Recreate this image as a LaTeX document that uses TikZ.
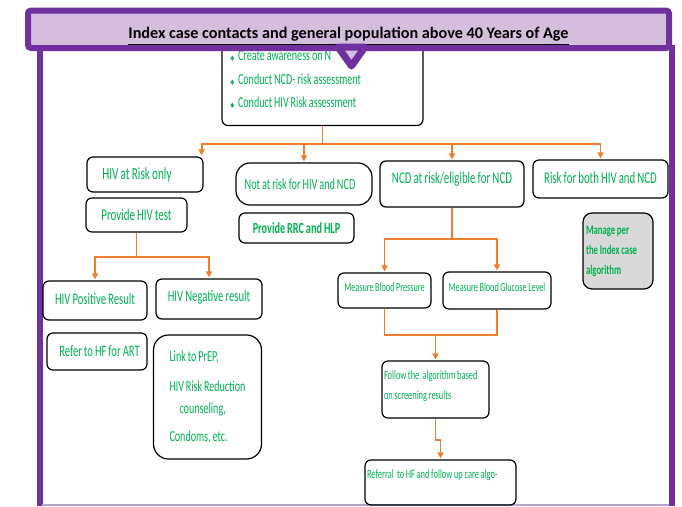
\documentclass[tikz,border=0pt]{standalone}
\usepackage{amssymb,amsmath}
\usepackage{fontspec}
\setmainfont{Carlito}
\newfontfamily\narrowfont[FakeStretch=0.66,WordSpace=0.85]{Carlito}
\usepackage{tikz}
\usetikzlibrary{arrows,arrows.meta,shapes,positioning}
\usepackage{color}

\definecolor{ipurple}{HTML}{7030A0}
\definecolor{ilavender}{HTML}{D5BEDD}
\definecolor{iorange}{HTML}{ED7D31}
\definecolor{igreen}{HTML}{00B050}
\definecolor{igray}{HTML}{D9D9D9}
\definecolor{iedge}{HTML}{B9A3CC}

\newcommand{\itembullet}{\makebox[8pt][l]{\fontsize{6}{6}\selectfont$\blacklozenge$}}
\newcommand{\fsz}[1]{\fontsize{#1}{1.2\dimexpr #1pt\relax}\selectfont}
\newcommand{\lift}[2]{\raisebox{#1}[\height][\depth]{#2}}

\tikzset{
  stepbox/.style={draw=black, line width=1.2pt, rounded corners=6pt, text=igreen,
    align=center, inner sep=2pt, font=\narrowfont\fsz{16}},
  smallbox/.style={stepbox, font=\narrowfont\fsz{12.4}},
  wire/.style={iorange, line width=1.8pt},
  flow/.style={wire, -{Triangle[length=6pt,width=6pt]}, shorten >=1pt},
  frame/.style={ipurple, line width=6pt},
}

\begin{document}
\begin{tikzpicture}[x=1pt,y=-1pt]
  \useasboundingbox (0,0) rectangle (682,506);
  %draw outer frame
  \draw[frame] (39.5,45) -- (39.5,506);
  \draw[frame] (672,45) -- (672,506);
  \draw[iedge, line width=1.5pt] (42,505) -- (669,505);

  %top box with the bullet list
  \node[stepbox, minimum width=201pt, minimum height=92pt, text width=185pt, inner xsep=8pt,
    align=flush left, font=\narrowfont\fontsize{15.3}{23.5}\selectfont] (aware) at (322.5,79.5)
    {\itembullet Create awareness on N\\
     \itembullet Conduct NCD- risk assessment\\
     \itembullet Conduct HIV Risk assessment};

  %first row of risk groups
  \node[stepbox, minimum width=116pt, minimum height=35pt, font=\narrowfont\fsz{17}] (hivrisk) at (145,174.5) {\hspace*{-16pt}HIV at Risk only};
  \node[stepbox, minimum width=136pt, minimum height=42pt, rounded corners=14pt,
    font=\narrowfont\fsz{15.5}] (notrisk) at (304,184) {\hspace*{-8pt}Not at risk for HIV and NCD};
  \node[stepbox, minimum width=144pt, minimum height=46pt,
    font=\narrowfont\fsz{16.5}] (ncdrisk) at (452,184) {\lift{5pt}{NCD at risk/eligible for NCD}};
  \node[stepbox, minimum width=135pt, minimum height=38pt,
    font=\narrowfont\fsz{16.4}] (both) at (600.5,179) {\lift{1pt}{Risk for both HIV and NCD}};

  %second row
  \node[stepbox, minimum width=101pt, minimum height=34pt,
    font=\narrowfont\fsz{16.5}] (hivtest) at (136.5,215) {Provide HIV test};
  \node[stepbox, minimum width=115pt, minimum height=30pt,
    font=\narrowfont\bfseries\fsz{15.5}] (rrc) at (296.5,228) {Provide RRC and HLP};
  \node[stepbox, fill=igray, minimum width=70pt, minimum height=76pt, rounded corners=9pt,
    text width=64pt, inner xsep=3pt, align=flush left, font=\narrowfont\bfseries\fontsize{13.2}{20}\selectfont] (manage) at (618,251)
    {Manage per\\ the Index case\\ algorithm};

  %HIV test results
  \node[stepbox, minimum width=104pt, minimum height=39pt,
    font=\narrowfont\fsz{16.2}] (hivpos) at (95,300.5) {\lift{2pt}{HIV Positive Result}};
  \node[stepbox, minimum width=106pt, minimum height=40pt,
    font=\narrowfont\fsz{16.2}] (hivneg) at (209,299) {\lift{2pt}{HIV Negative result}};
  \node[stepbox, minimum width=100pt, minimum height=37pt,
    font=\narrowfont\fsz{16}] (art) at (97,351.5) {\hspace*{5pt}Refer to HF for ART};
  \node[stepbox, minimum width=108pt, minimum height=124pt, rounded corners=15pt,
    text width=76pt, inner xsep=16pt, align=flush left, font=\narrowfont\fontsize{15.3}{14}\selectfont] (prep) at (207.5,397)
    {Link to PrEP,\\[16pt]
     HIV Risk Reduction\\[8pt]
     \hspace*{10pt}counseling,\\[14pt]
     Condoms, etc.};

  %NCD screening
  \node[smallbox, minimum width=93pt, minimum height=35pt] (bp) at (384.5,290.5) {\lift{3pt}{Measure Blood Pressure}};
  \node[smallbox, minimum width=108pt, minimum height=37pt] (bgl) at (497,290.5) {\lift{3pt}{Measure Blood Glucose Level}};
  \node[smallbox, minimum width=107pt, minimum height=57pt, text width=103pt, align=flush left,
    font=\narrowfont\fontsize{12.7}{20}\selectfont] (follow) at (435.5,389.5)
    {\lift{3pt}{Follow the\ \ algorithm based}\\ \lift{3pt}{on screening results}};
  \node[smallbox, minimum width=151pt, minimum height=45pt, text width=147pt, align=flush left,
    font=\narrowfont\fsz{12.8}] (referral) at (440.5,482.5)
    {\lift{7pt}{Referral\ \ to HF and follow up care algo-}};

  %draw connectors
  \draw[wire] (aware.south) -- ++(0,18) coordinate (fork1);
  \draw[flow] (fork1) -| ([xshift=-2pt]hivrisk.north east);
  \draw[flow] (fork1) -| (notrisk.north);
  \draw[flow] (fork1) -| (ncdrisk.north);
  \draw[flow] (fork1) -| (both.north);
  \draw[wire] (hivtest.south) -- ++(0,24) coordinate (fork2);
  \draw[flow] (fork2) -| (hivpos.north);
  \draw[flow] (fork2) -| (hivneg.north);
  \draw[wire] (ncdrisk.south) -- ++(0,31) coordinate (fork3);
  \draw[flow] (fork3) -| (bp.north);
  \draw[flow] (fork3) -| (bgl.north);
  \coordinate (join) at (follow.north |- 0,335);
  \draw[wire] (bp.south) |- (join) -| (bgl.south);
  \draw[flow] (join) -- (follow.north);
  \draw[flow] (follow.south) -- ++(0,21) -| (referral.north);

  %title banner over the top
  \node[draw=ipurple, fill=ilavender, line width=6pt, rounded corners=3pt, minimum width=641pt,
    minimum height=37.5pt, inner sep=0pt, font=\bfseries\fontsize{16.2}{18}\selectfont] (title) at (348.5,29.25)
    {\lift{-7pt}{\underline{Index case contacts and general population above 40 Years of Age}}};
  %pointer under the banner
  \draw[ipurple, fill=ilavender, line width=7pt, line join=round] (338,47) -- (365,47) -- (351.5,66) -- cycle;
\end{tikzpicture}
\end{document}
